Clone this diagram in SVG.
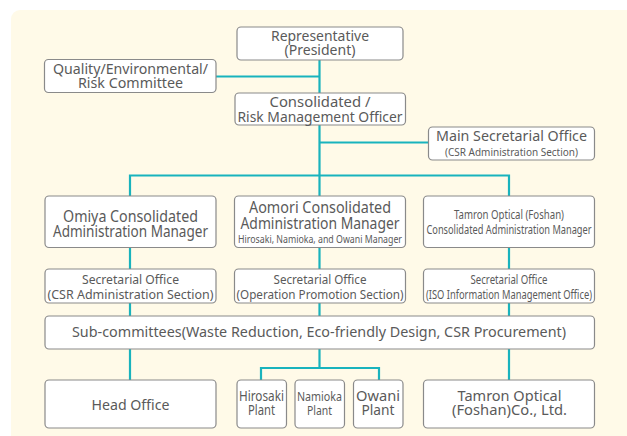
<svg xmlns="http://www.w3.org/2000/svg" width="627" height="436" viewBox="0 0 627 436">
<style>
.box{fill:#fff;stroke:#8a8a8a;stroke-width:1.2}
.t{font-family:"Noto Sans","Open Sans",sans-serif;fill:#5a5a5a;text-anchor:middle}
.c{fill:none;stroke:#19b3bd;stroke-width:2.2}
</style>
<rect x="11" y="10" width="626" height="440" rx="9" fill="#fffae8"/>
<g id="connectors">
<path class="c" d="M319.5 60V93M216 76.5H319.5M319.5 125V175.5M319.5 142.5H428M130 196V175.5H509V196M319.5 175.5V196"/>
<path class="c" d="M130 248V269M319.5 248V269M509 248V269M130 303V316M319.5 303V316M509 303V316"/>
<path class="c" d="M130 349V380M509 349V380M319.5 349V368M261 380V368H379V380"/>
</g>
<g id="representative"><rect class="box" x="237" y="27" width="166" height="33" rx="4"/>
<text class="t" font-size="13.5"><tspan x="320" y="40.5" textLength="98" lengthAdjust="spacingAndGlyphs">Representative</tspan><tspan x="320" y="55" textLength="71" lengthAdjust="spacingAndGlyphs">(President)</tspan></text></g>
<g id="quality"><rect class="box" x="44.5" y="59.5" width="171.5" height="33" rx="4"/>
<text class="t" font-size="13.5"><tspan x="130.5" y="73.5" textLength="155" lengthAdjust="spacingAndGlyphs">Quality/Environmental/</tspan><tspan x="130.5" y="88" textLength="105" lengthAdjust="spacingAndGlyphs">Risk Committee</tspan></text></g>
<g id="consolidated"><rect class="box" x="235" y="93" width="170.5" height="32" rx="4"/>
<text class="t" font-size="14"><tspan x="320" y="106.5" textLength="101" lengthAdjust="spacingAndGlyphs">Consolidated /</tspan><tspan x="320" y="121.5" textLength="165" lengthAdjust="spacingAndGlyphs">Risk Management Officer</tspan></text></g>
<g id="main-secretarial"><rect class="box" x="428.5" y="127" width="166" height="33" rx="4"/>
<text class="t"><tspan x="511.5" y="140.5" font-size="13.5" textLength="151" lengthAdjust="spacingAndGlyphs">Main Secretarial Office</tspan><tspan x="511.5" y="155.5" font-size="10.5" textLength="133" lengthAdjust="spacingAndGlyphs">(CSR Administration Section)</tspan></text></g>
<g id="omiya"><rect class="box" x="45" y="196" width="171" height="51.5" rx="4"/>
<text class="t" font-size="15.5"><tspan x="130.5" y="221.5" textLength="135" lengthAdjust="spacingAndGlyphs">Omiya Consolidated</tspan><tspan x="130.5" y="236.5" textLength="155" lengthAdjust="spacingAndGlyphs">Administration Manager</tspan></text></g>
<g id="aomori"><rect class="box" x="234.5" y="196" width="171" height="51.5" rx="4"/>
<text class="t"><tspan x="320" y="213" font-size="15.5" textLength="142" lengthAdjust="spacingAndGlyphs">Aomori Consolidated</tspan><tspan x="320" y="228.5" font-size="15.5" textLength="159" lengthAdjust="spacingAndGlyphs">Administration Manager</tspan><tspan x="320" y="243" font-size="10" textLength="164" lengthAdjust="spacingAndGlyphs">Hirosaki, Namioka, and Owani Manager</tspan></text></g>
<g id="tamron-manager"><rect class="box" x="423.5" y="196" width="171" height="51.5" rx="4"/>
<text class="t" font-size="12.5"><tspan x="509" y="218.5" textLength="110" lengthAdjust="spacingAndGlyphs">Tamron Optical (Foshan)</tspan><tspan x="509" y="233.5" textLength="165" lengthAdjust="spacingAndGlyphs">Consolidated Administration Manager</tspan></text></g>
<g id="secretarial-omiya"><rect class="box" x="45" y="269" width="171" height="34" rx="4"/>
<text class="t" font-size="12.5"><tspan x="130.5" y="283.5" textLength="97" lengthAdjust="spacingAndGlyphs">Secretarial Office</tspan><tspan x="130.5" y="298.5" textLength="166" lengthAdjust="spacingAndGlyphs">(CSR Administration Section)</tspan></text></g>
<g id="secretarial-aomori"><rect class="box" x="234.5" y="269" width="171" height="34" rx="4"/>
<text class="t" font-size="12.5"><tspan x="320" y="283.5" textLength="93" lengthAdjust="spacingAndGlyphs">Secretarial Office</tspan><tspan x="320" y="298.5" textLength="167" lengthAdjust="spacingAndGlyphs">(Operation Promotion Section)</tspan></text></g>
<g id="secretarial-tamron"><rect class="box" x="423.5" y="269" width="171" height="34" rx="4"/>
<text class="t" font-size="12.5"><tspan x="509" y="283.5" textLength="77" lengthAdjust="spacingAndGlyphs">Secretarial Office</tspan><tspan x="509" y="298.5" textLength="166" lengthAdjust="spacingAndGlyphs">(ISO Information Management Office)</tspan></text></g>
<g id="subcommittees"><rect class="box" x="45" y="316" width="549.5" height="33" rx="4"/>
<text class="t" font-size="14" x="319" y="337" textLength="494" lengthAdjust="spacingAndGlyphs">Sub-committees(Waste Reduction, Eco-friendly Design, CSR Procurement)</text></g>
<g id="head-office"><rect class="box" x="45" y="380" width="171" height="48" rx="4"/>
<text class="t" font-size="15" x="130.5" y="410" textLength="78" lengthAdjust="spacingAndGlyphs">Head Office</text></g>
<g id="hirosaki"><rect class="box" x="237" y="380" width="49.5" height="48" rx="4"/>
<text class="t" font-size="13.5"><tspan x="261.5" y="400.5" textLength="45" lengthAdjust="spacingAndGlyphs">Hirosaki</tspan><tspan x="261.5" y="415" textLength="27" lengthAdjust="spacingAndGlyphs">Plant</tspan></text></g>
<g id="namioka"><rect class="box" x="295" y="380" width="49.5" height="48" rx="4"/>
<text class="t" font-size="12.5"><tspan x="319.5" y="400.5" textLength="45" lengthAdjust="spacingAndGlyphs">Namioka</tspan><tspan x="319.5" y="415" textLength="25" lengthAdjust="spacingAndGlyphs">Plant</tspan></text></g>
<g id="owani"><rect class="box" x="353.5" y="380" width="49.5" height="48" rx="4"/>
<text class="t" font-size="14.5"><tspan x="378" y="400.5" textLength="44" lengthAdjust="spacingAndGlyphs">Owani</tspan><tspan x="378" y="415" textLength="33" lengthAdjust="spacingAndGlyphs">Plant</tspan></text></g>
<g id="tamron-co"><rect class="box" x="423.5" y="380" width="171" height="48" rx="4"/>
<text class="t" font-size="14.5"><tspan x="509.5" y="400.5" textLength="104" lengthAdjust="spacingAndGlyphs">Tamron Optical</tspan><tspan x="509.5" y="415" textLength="115" lengthAdjust="spacingAndGlyphs">(Foshan)Co., Ltd.</tspan></text></g>
</svg>
